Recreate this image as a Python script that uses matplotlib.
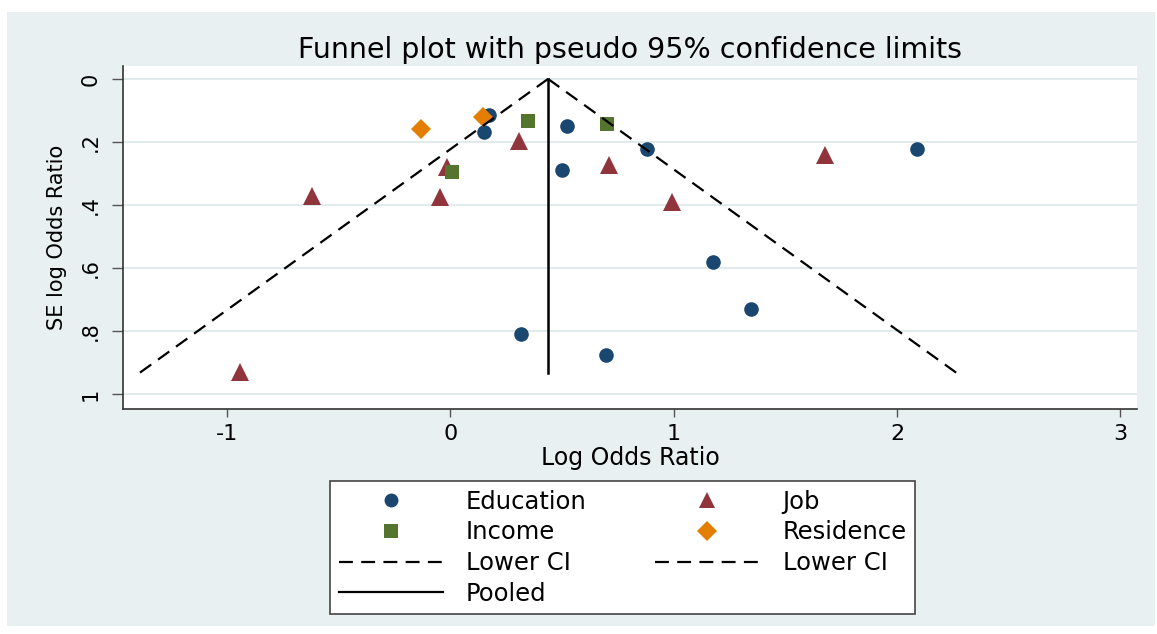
import matplotlib
matplotlib.use('Agg')
import matplotlib.pyplot as plt
from matplotlib.lines import Line2D
from matplotlib.patches import Rectangle
import numpy as np

plt.rcParams['font.family'] = ['DejaVu Sans']
plt.rcParams['lines.scale_dashes'] = False

# ---- data (log odds ratio, SE of log odds ratio) ----
edu_x = [0.172, 0.151, 0.520, 0.879, 2.088, 0.498, 1.177, 1.347, 0.316, 0.695]
edu_se = [0.116, 0.170, 0.151, 0.222, 0.223, 0.290, 0.582, 0.730, 0.811, 0.875]
job_x = [-0.017, 0.308, -0.047, -0.620, -0.943, 1.677, 0.711, 0.993]
job_se = [0.280, 0.197, 0.376, 0.371, 0.932, 0.241, 0.273, 0.390]
inc_x = [0.347, 0.005, 0.702]
inc_se = [0.133, 0.297, 0.144]
res_x = [-0.133, 0.147]
res_se = [0.159, 0.122]
pooled = 0.437
max_se = 0.934

xticks = [-1, 0, 1, 2, 3]
yticks = [0, 0.2, 0.4, 0.6, 0.8, 1.0]
ytick_labels = ['0', '.2', '.4', '.6', '.8', '1']

c_edu = '#1a476f'
c_job = '#90353b'
c_inc = '#55752f'
c_res = '#e37e00'
bg = '#e8f0f2'

W, H = 1157, 634
fig = plt.figure(figsize=(W / 100, H / 100), dpi=100)
fig.patch.set_facecolor('white')
fig.patches.append(Rectangle((7 / W, 1 - 626 / H), (1155 - 7) / W, (626 - 12) / H,
                             transform=fig.transFigure, facecolor=bg,
                             edgecolor='none', zorder=-10))

ax = fig.add_axes([122.7 / W, 1 - 409 / H, (1137.3 - 122.7) / W, (409 - 66) / H])
ax.set_facecolor('white')

for y in yticks:
    ax.axhline(y, color='#e1eaed', lw=1.4, zorder=0)

ms_kw = dict(linestyle='none', markeredgewidth=0)
ax.plot(edu_x, edu_se, marker='o', ms=10.5, color=c_edu, zorder=3, **ms_kw)
ax.plot(job_x, job_se, marker='^', ms=12.5, color=c_job, zorder=3, **ms_kw)
ax.plot(inc_x, inc_se, marker='s', ms=10.5, color=c_inc, zorder=3, **ms_kw)
ax.plot(res_x, res_se, marker='D', ms=10.5, color=c_res, zorder=3, **ms_kw)

se_line = np.array([0.0, max_se])
dash = (0, (10, 6))
ax.plot(pooled - 1.96 * se_line, se_line, color='black', lw=1.6, linestyle=dash, zorder=4)
ax.plot(pooled + 1.96 * se_line, se_line, color='black', lw=1.6, linestyle=dash, zorder=4)
ax.plot([pooled, pooled], se_line, color='black', lw=1.8, zorder=4)

ax.set_xlim(-1.468, 3.076)
ax.set_ylim(1.048, -0.041)
ax.set_xticks(xticks)
ax.set_xticklabels([str(t) for t in xticks])
ax.set_yticks(yticks)
ax.set_yticklabels(ytick_labels, rotation=90, va='center')

for s in ['top', 'right']:
    ax.spines[s].set_visible(False)
for s in ['left', 'bottom']:
    ax.spines[s].set_color('#333333')
    ax.spines[s].set_linewidth(1.2)
ax.tick_params(axis='x', length=6, width=1, color='#555555', pad=5, labelsize=16)
ax.tick_params(axis='y', length=8, width=1, color='#555555', pad=8, labelsize=15)

ax.set_xlabel('Log Odds Ratio', fontsize=17, labelpad=1)
ax.set_ylabel('SE log Odds Ratio', fontsize=15, labelpad=10)
ax.set_title('Funnel plot with pseudo 95% confidence limits', fontsize=20.5, pad=6)

handles = [
    Line2D([], [], marker='o', ms=10, color=c_edu, **ms_kw),
    Line2D([], [], marker='s', ms=10.5, color=c_inc, **ms_kw),
    Line2D([], [], color='black', lw=1.6, linestyle=dash),
    Line2D([], [], color='black', lw=1.6),
    Line2D([], [], marker='^', ms=12, color=c_job, **ms_kw),
    Line2D([], [], marker='D', ms=10.5, color=c_res, **ms_kw),
    Line2D([], [], color='black', lw=1.6, linestyle=dash),
]
labels = ['Education', 'Income', 'Lower CI', 'Pooled', 'Job', 'Residence', 'Lower CI']
leg = fig.legend(handles, labels, ncol=2, loc='upper left',
                 bbox_to_anchor=(330 / W, 1 - 481 / H), borderaxespad=0,
                 fontsize=17.5, handlelength=4.3, handletextpad=0.95,
                 columnspacing=2.8, borderpad=0.35, labelspacing=0.28,
                 fancybox=False, framealpha=1, edgecolor='#444444')
leg.get_frame().set_linewidth(1.2)

fig.savefig('out.png', dpi=100, facecolor=fig.get_facecolor())
